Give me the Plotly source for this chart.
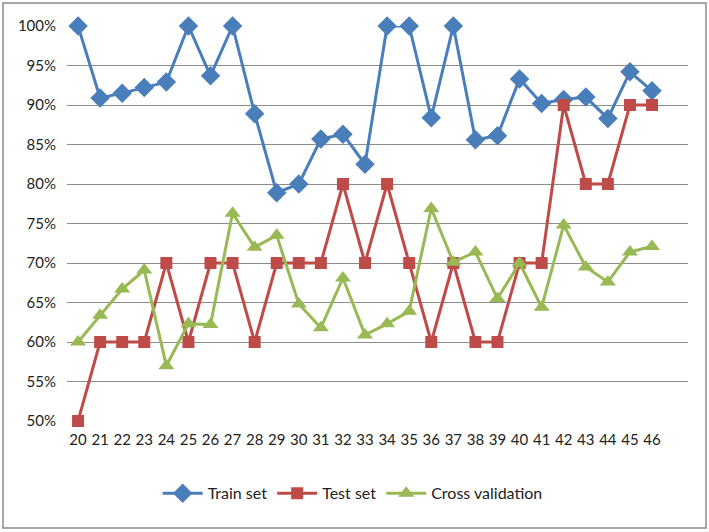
import plotly.graph_objects as go

x_labels = list(range(20, 47))
train = [1.00, 0.909, 0.915, 0.922, 0.929, 1.00, 0.937, 1.00, 0.889, 0.789, 0.80,
         0.857, 0.863, 0.825, 1.00, 1.00, 0.884, 1.00, 0.856, 0.861, 0.933, 0.902,
         0.907, 0.910, 0.883, 0.942, 0.918]
test = [0.50, 0.60, 0.60, 0.60, 0.70, 0.60, 0.70, 0.70, 0.60, 0.70, 0.70, 0.70,
        0.80, 0.70, 0.80, 0.70, 0.60, 0.70, 0.60, 0.60, 0.70, 0.70, 0.90, 0.80,
        0.80, 0.90, 0.90]
cross = [0.60, 0.634, 0.667, 0.691, 0.570, 0.623, 0.622, 0.763, 0.720, 0.735,
         0.648, 0.618, 0.681, 0.609, 0.623, 0.639, 0.769, 0.701, 0.714, 0.655,
         0.700, 0.644, 0.748, 0.695, 0.676, 0.714, 0.721]

BLUE = "#4A7EBB"
RED = "#BE4B48"
GREEN = "#98B954"

fig = go.Figure()
fig.add_trace(go.Scatter(x=x_labels, y=train, name="Train set", mode="lines+markers",
                         line=dict(color=BLUE, width=3),
                         marker=dict(symbol="diamond", size=15, color=BLUE),
                         cliponaxis=False))
fig.add_trace(go.Scatter(x=x_labels, y=test, name="Test set", mode="lines+markers",
                         line=dict(color=RED, width=3),
                         marker=dict(symbol="square", size=12, color=RED),
                         cliponaxis=False))
fig.add_trace(go.Scatter(x=x_labels, y=cross, name="Cross validation", mode="lines+markers",
                         line=dict(color=GREEN, width=3),
                         marker=dict(symbol="triangle-up", size=14, color=GREEN),
                         cliponaxis=False))

FONT = "Lato, Liberation Sans, sans-serif"

L, R, T, B = 67, 21, 26, 111
W, H = 709, 532
pw, ph = W - L - R, H - T - B

fig.update_layout(
    width=W, height=H,
    margin=dict(l=L, r=R, t=T, b=B),
    paper_bgcolor="white", plot_bgcolor="white",
    font=dict(family=FONT, size=15, color="#222222"),
    showlegend=True,
    legend=dict(orientation="h", x=0.46, xanchor="center", y=-0.14, yanchor="top",
                font=dict(size=16), itemwidth=40, traceorder="normal"),
    xaxis=dict(type="linear", range=[19.5, 47.63], tickmode="array", tickvals=x_labels,
               ticktext=[str(v) for v in x_labels], showgrid=False, zeroline=False,
               showline=False, ticks="", ticklabelstandoff=8),
    yaxis=dict(range=[0.5, 1.0], tickmode="array",
               tickvals=[0.5, 0.55, 0.6, 0.65, 0.7, 0.75, 0.8, 0.85, 0.9, 0.95, 1.0],
               tickformat=".0%", showgrid=True, gridcolor="#8C8C8C", gridwidth=1,
               zeroline=False, showline=False, ticks="", ticklabelstandoff=10),
    shapes=[dict(type="rect", xref="paper", yref="paper",
                 x0=(3 - L) / pw, x1=(706 - L) / pw,
                 y0=(H - B - 528) / ph, y1=(H - B - 3) / ph,
                 line=dict(color="#8C8C8C", width=1.5), fillcolor="rgba(0,0,0,0)",
                 layer="below")],
)

fig.write_html("out.html", config={"displayModeBar": False},
               post_script="document.body.style.margin='0';")
